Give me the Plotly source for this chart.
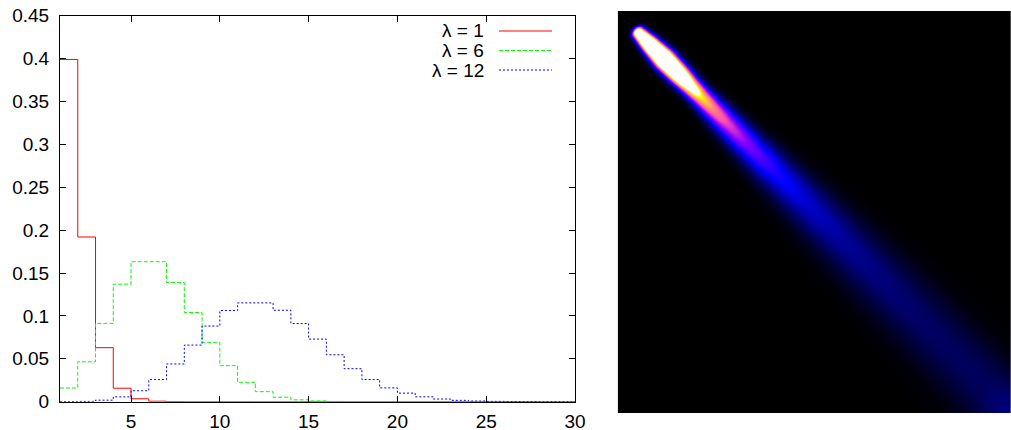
import numpy as np
import plotly.graph_objects as go

# ---------------- left panel data ----------------
x_vals = list(range(1, 31))
lam1 = [0.399, 0.192, 0.063, 0.0157, 0.0034, 0.0006, 0.0001, 0, 0, 0,
        0, 0, 0, 0, 0, 0, 0, 0, 0, 0,
        0, 0, 0, 0, 0, 0, 0, 0, 0, 0]
lam6 = [0.0160, 0.0465, 0.0913, 0.1370, 0.1632, 0.1632, 0.1390, 0.1040, 0.0692, 0.0420,
        0.0226, 0.0117, 0.0052, 0.0022, 0.0009, 0.0003, 0.0001, 0, 0, 0,
        0, 0, 0, 0, 0, 0, 0, 0, 0, 0]
lam12 = [0.0001, 0.0004, 0.0018, 0.0056, 0.0128, 0.0258, 0.0440, 0.0660, 0.0882, 0.1063,
         0.1152, 0.1152, 0.1066, 0.0912, 0.0730, 0.0547, 0.0385, 0.0259, 0.0161, 0.0100,
         0.0057, 0.0031, 0.0016, 0.0008, 0.0004, 0.0002, 0.0001, 0, 0, 0]
series_names = ["λ = 1", "λ = 6", "λ = 12"]
series_colors = ["#ff0000", "#00ff00", "#0000ff"]
series_dash = ["solid", "4px,2px", "2px,2px"]
x_ticks = [5, 10, 15, 20, 25, 30]
y_ticks = [0, 0.05, 0.1, 0.15, 0.2, 0.25, 0.3, 0.35, 0.4, 0.45]

# ---------------- right panel: streak profile ----------------
# position along the streak (0 = head at upper left, 1 = lower-right corner)
streak_pos = [0.0, 0.03, 0.07, 0.11, 0.14, 0.17, 0.20, 0.24, 0.30, 0.37, 0.45, 0.55, 0.65, 0.75, 0.85, 0.93, 1.0]
# intensity on the colour scale (values above 1 saturate to white)
streak_peak = [1.6, 2.3, 2.6, 2.0, 1.3, 0.9, 0.7, 0.55, 0.40, 0.28, 0.20, 0.15, 0.12, 0.10, 0.09, 0.09, 0.13]
# perpendicular spread of the streak in pixels
streak_sigma = [4.0, 5.0, 6.0, 6.0, 6.0, 6.5, 7.5, 8.5, 10.0, 12.0, 14.5, 17.0, 19.0, 21.0, 22.0, 23.0, 23.0]

W, H = 393, 402
head_pt = (20.0, 21.0)
tail_pt = (393.0, 402.0)
xs = np.arange(1, W, 2)
ys = np.arange(1, H, 2)
X, Y = np.meshgrid(xs, ys)
dx, dy = tail_pt[0] - head_pt[0], tail_pt[1] - head_pt[1]
L = float(np.hypot(dx, dy))
ux, uy = dx / L, dy / L
s = ((X - head_pt[0]) * ux + (Y - head_pt[1]) * uy) / L
perp = -(X - head_pt[0]) * uy + (Y - head_pt[1]) * ux
peak = np.interp(s, streak_pos, streak_peak)
sig = np.interp(s, streak_pos, streak_sigma)
z = peak * np.exp(-perp ** 2 / (2 * sig ** 2))
z = z * np.where(s < 0, np.exp(-(s * L) ** 2 / (2 * 3.0 ** 2)), 1.0)

# gnuplot "rgbformulae 30,31,32" palette (black-blue-violet-yellow-white)
palette = [
    [0.0, "rgb(0,0,0)"],
    [0.25, "rgb(0,0,255)"],
    [0.42, "rgb(135,0,255)"],
    [0.57, "rgb(255,77,178)"],
    [0.92, "rgb(255,255,0)"],
    [1.0, "rgb(255,255,255)"],
]

FONT = "Liberation Sans, Arial, Helvetica, sans-serif"
FW, FH = 1011, 430

fig = go.Figure()
for name, yv, col, dash in zip(series_names, [lam1, lam6, lam12], series_colors, series_dash):
    fig.add_trace(go.Scatter(
        x=x_vals, y=yv, mode="lines", name=name,
        line=dict(color=col, width=1, dash=dash, shape="hv"),
        showlegend=False, xaxis="x", yaxis="y",
    ))

fig.add_trace(go.Heatmap(
    x=xs, y=ys, z=z, zmin=0, zmax=1, colorscale=palette, showscale=False,
    zsmooth="best", xaxis="x2", yaxis="y2", hoverinfo="skip",
))

# legend (text on the left, sample line on the right, like gnuplot)
leg_rows = [31.0, 50.5, 70.0]
annotations = []
shapes = []
for name, col, dash, ypx in zip(series_names, series_colors, series_dash, leg_rows):
    annotations.append(dict(
        x=486 / FW, y=1 - ypx / FH, xref="paper", yref="paper",
        text=name, showarrow=False, xanchor="right", yanchor="middle",
        font=dict(family=FONT, size=19, color="#000000"),
    ))
    shapes.append(dict(
        type="line", xref="paper", yref="paper",
        x0=499 / FW, x1=552 / FW, y0=1 - ypx / FH, y1=1 - ypx / FH,
        line=dict(color=col, width=1, dash=dash),
    ))

axis_common = dict(
    showline=True, linecolor="#000000", linewidth=1, mirror="ticks",
    ticks="inside", ticklen=6, tickwidth=1, tickcolor="#000000",
    showgrid=False, zeroline=False, automargin=False,
    tickfont=dict(family=FONT, size=19, color="#000000"),
)

fig.update_layout(
    width=FW, height=FH, autosize=False,
    margin=dict(l=0, r=0, t=0, b=0, pad=0),
    paper_bgcolor="#ffffff", plot_bgcolor="#ffffff",
    xaxis=dict(domain=[60 / FW, 575 / FW], range=[1, 30], tickvals=x_ticks,
               ticklabelstandoff=2, **axis_common),
    yaxis=dict(domain=[(FH - 401.7) / FH, (FH - 15.7) / FH], range=[0, 0.45],
               tickvals=y_ticks, ticklabelstandoff=6, **axis_common),
    xaxis2=dict(domain=[617.7 / FW, 1.0], range=[xs[0] - 1, xs[-1] + 1], visible=False,
                anchor="y2"),
    yaxis2=dict(domain=[(FH - 413.3) / FH, (FH - 11) / FH], range=[ys[-1] + 1, ys[0] - 1],
                visible=False, anchor="x2"),
    annotations=annotations,
    shapes=shapes,
)

fig.write_html(
    "out.html",
    config={"displayModeBar": False},
    post_script="document.body.style.margin='0px';document.body.style.overflow='hidden';",
)
